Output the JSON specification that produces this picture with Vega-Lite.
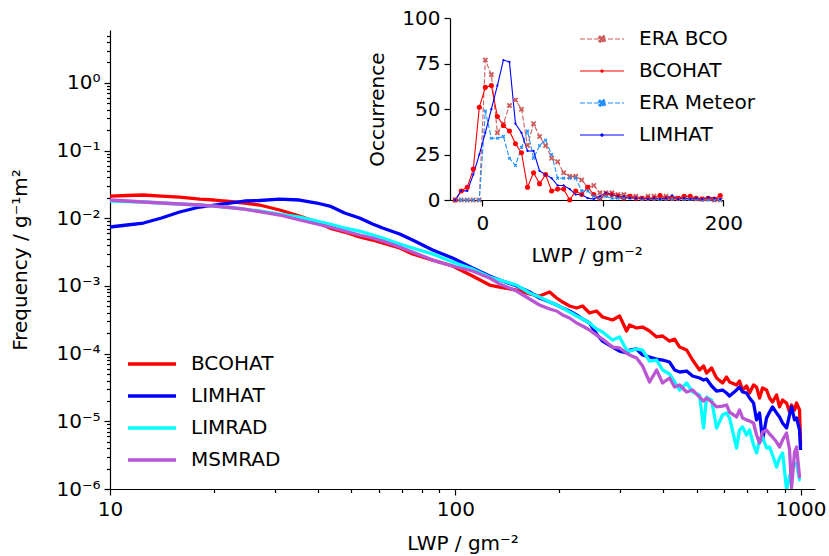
{
"$schema": "https://vega.github.io/schema/vega-lite/v6.json",
"width": 705, "height": 459,
"autosize": {"type": "none"},
"padding": {"left": 110, "top": 30, "right": 14, "bottom": 67},
"config": {
  "view": {"stroke": null},
  "font": "DejaVu Sans",
  "axis": {"grid": false, "domainColor": "#000", "domainWidth": 1.2, "tickColor": "#000", "tickWidth": 1.2, "labelColor": "#000", "titleColor": "#000", "labelFontSize": 20, "titleFontSize": 20, "titleFontWeight": "normal", "labelFont": "DejaVu Sans", "titleFont": "DejaVu Sans", "labelOverlap": false, "labelFlush": false},
  "legend": {"labelFont": "DejaVu Sans", "labelFontSize": 20, "labelColor": "#000"}
},
"datasets": {
"main": [
{"s":"BCOHAT","lwp":10,"f":0.02127},{"s":"BCOHAT","lwp":11.2,"f":0.02164},{"s":"BCOHAT","lwp":12.5,"f":0.02202},{"s":"BCOHAT","lwp":14.1,"f":0.02127},{"s":"BCOHAT","lwp":15.9,"f":0.02056},{"s":"BCOHAT","lwp":18.2,"f":0.01921},{"s":"BCOHAT","lwp":20,"f":0.01857},{"s":"BCOHAT","lwp":22.2,"f":0.01765},{"s":"BCOHAT","lwp":24.5,"f":0.01677},{"s":"BCOHAT","lwp":27.1,"f":0.01567},{"s":"BCOHAT","lwp":31,"f":0.01322},{"s":"BCOHAT","lwp":35.4,"f":0.01078},{"s":"BCOHAT","lwp":39.7,"f":0.00879},{"s":"BCOHAT","lwp":43.3,"f":0.00716},{"s":"BCOHAT","lwp":47.8,"f":0.00625},{"s":"BCOHAT","lwp":52.8,"f":0.00528},{"s":"BCOHAT","lwp":57.6,"f":0.00476},{"s":"BCOHAT","lwp":61.6,"f":0.0043},{"s":"BCOHAT","lwp":69,"f":0.00363},{"s":"BCOHAT","lwp":75.2,"f":0.00296},{"s":"BCOHAT","lwp":86,"f":0.00241},{"s":"BCOHAT","lwp":98.2,"f":0.00197},{"s":"BCOHAT","lwp":112.2,"f":0.0014},{"s":"BCOHAT","lwp":125.7,"f":0.00103},{"s":"BCOHAT","lwp":134.4,"f":0.000963},{"s":"BCOHAT","lwp":150.5,"f":0.00087},{"s":"BCOHAT","lwp":164.1,"f":0.00076},{"s":"BCOHAT","lwp":175.4,"f":0.000709},{"s":"BCOHAT","lwp":187.6,"f":0.000813},{"s":"BCOHAT","lwp":196.6,"f":0.000663},{"s":"BCOHAT","lwp":204.6,"f":0.000578},{"s":"BCOHAT","lwp":214.3,"f":0.000505},{"s":"BCOHAT","lwp":224.5,"f":0.000472},{"s":"BCOHAT","lwp":233.7,"f":0.000505},{"s":"BCOHAT","lwp":244.8,"f":0.000398},{"s":"BCOHAT","lwp":256.5,"f":0.000426},{"s":"BCOHAT","lwp":267,"f":0.000347},{"s":"BCOHAT","lwp":285.4,"f":0.000314},{"s":"BCOHAT","lwp":299.1,"f":0.000359},{"s":"BCOHAT","lwp":313.4,"f":0.000216},{"s":"BCOHAT","lwp":319.7,"f":0.000265},{"s":"BCOHAT","lwp":335,"f":0.000239},{"s":"BCOHAT","lwp":348.7,"f":0.000247},{"s":"BCOHAT","lwp":365.3,"f":0.000216},{"s":"BCOHAT","lwp":382.8,"f":0.000176},{"s":"BCOHAT","lwp":398.4,"f":0.000182},{"s":"BCOHAT","lwp":417.4,"f":0.000153},{"s":"BCOHAT","lwp":431.6,"f":0.000164},{"s":"BCOHAT","lwp":446.3,"f":0.000125},{"s":"BCOHAT","lwp":467.7,"f":0.000113},{"s":"BCOHAT","lwp":486.7,"f":8.04e-5},{"s":"BCOHAT","lwp":509.9,"f":5.73e-5},{"s":"BCOHAT","lwp":523.7,"f":6.56e-5},{"s":"BCOHAT","lwp":534.3,"f":5.17e-5},{"s":"BCOHAT","lwp":552.5,"f":6.13e-5},{"s":"BCOHAT","lwp":571.1,"f":4.36e-5},{"s":"BCOHAT","lwp":594.4,"f":3.68e-5},{"s":"BCOHAT","lwp":610.5,"f":4.51e-5},{"s":"BCOHAT","lwp":622.8,"f":3.81e-5},{"s":"BCOHAT","lwp":652.5,"f":3.44e-5},{"s":"BCOHAT","lwp":665.7,"f":3.94e-5},{"s":"BCOHAT","lwp":679.2,"f":2.9e-5},{"s":"BCOHAT","lwp":697.5,"f":3.32e-5},{"s":"BCOHAT","lwp":711.6,"f":2.62e-5},{"s":"BCOHAT","lwp":730.8,"f":3.44e-5},{"s":"BCOHAT","lwp":745.6,"f":3.21e-5},{"s":"BCOHAT","lwp":760.6,"f":2.21e-5},{"s":"BCOHAT","lwp":776,"f":3.1e-5},{"s":"BCOHAT","lwp":797,"f":2.9e-5},{"s":"BCOHAT","lwp":813.1,"f":2.21e-5},{"s":"BCOHAT","lwp":829.5,"f":1.93e-5},{"s":"BCOHAT","lwp":852,"f":2.45e-5},{"s":"BCOHAT","lwp":869.2,"f":1.63e-5},{"s":"BCOHAT","lwp":886.8,"f":2.06e-5},{"s":"BCOHAT","lwp":910.8,"f":1.86e-5},{"s":"BCOHAT","lwp":929.2,"f":1.37e-5},{"s":"BCOHAT","lwp":941.7,"f":1.74e-5},{"s":"BCOHAT","lwp":960.6,"f":1.47e-5},{"s":"BCOHAT","lwp":973.6,"f":1.86e-5},{"s":"BCOHAT","lwp":993.3,"f":1.47e-5},{"s":"BCOHAT","lwp":1000,"f":4.47e-6},
{"s":"LIMHAT","lwp":10,"f":0.00741},{"s":"LIMHAT","lwp":11.2,"f":0.00794},{"s":"LIMHAT","lwp":12.5,"f":0.00849},{"s":"LIMHAT","lwp":14.1,"f":0.01007},{"s":"LIMHAT","lwp":15.9,"f":0.01235},{"s":"LIMHAT","lwp":18.2,"f":0.01464},{"s":"LIMHAT","lwp":20,"f":0.01567},{"s":"LIMHAT","lwp":22.2,"f":0.01677},{"s":"LIMHAT","lwp":24.5,"f":0.01795},{"s":"LIMHAT","lwp":27.1,"f":0.01826},{"s":"LIMHAT","lwp":31,"f":0.01921},{"s":"LIMHAT","lwp":35.4,"f":0.01857},{"s":"LIMHAT","lwp":39.7,"f":0.01677},{"s":"LIMHAT","lwp":43.3,"f":0.01514},{"s":"LIMHAT","lwp":47.8,"f":0.01194},{"s":"LIMHAT","lwp":52.8,"f":0.01007},{"s":"LIMHAT","lwp":57.6,"f":0.00821},{"s":"LIMHAT","lwp":61.6,"f":0.00716},{"s":"LIMHAT","lwp":69,"f":0.00584},{"s":"LIMHAT","lwp":75.2,"f":0.00476},{"s":"LIMHAT","lwp":86,"f":0.00339},{"s":"LIMHAT","lwp":98.2,"f":0.00258},{"s":"LIMHAT","lwp":112.2,"f":0.00184},{"s":"LIMHAT","lwp":125.7,"f":0.0014},{"s":"LIMHAT","lwp":134.4,"f":0.00122},{"s":"LIMHAT","lwp":150.5,"f":0.000997},{"s":"LIMHAT","lwp":164.1,"f":0.000813},{"s":"LIMHAT","lwp":175.4,"f":0.000663},{"s":"LIMHAT","lwp":187.6,"f":0.000578},{"s":"LIMHAT","lwp":196.6,"f":0.000522},{"s":"LIMHAT","lwp":204.6,"f":0.000472},{"s":"LIMHAT","lwp":214.3,"f":0.000426},{"s":"LIMHAT","lwp":224.5,"f":0.000372},{"s":"LIMHAT","lwp":233.7,"f":0.000324},{"s":"LIMHAT","lwp":244.8,"f":0.000283},{"s":"LIMHAT","lwp":256.5,"f":0.000195},{"s":"LIMHAT","lwp":267,"f":0.000153},{"s":"LIMHAT","lwp":285.4,"f":0.000125},{"s":"LIMHAT","lwp":299.1,"f":0.000109},{"s":"LIMHAT","lwp":313.4,"f":0.000102},{"s":"LIMHAT","lwp":319.7,"f":0.000113},{"s":"LIMHAT","lwp":335,"f":0.000117},{"s":"LIMHAT","lwp":348.7,"f":9.54e-5},{"s":"LIMHAT","lwp":365.3,"f":8.91e-5},{"s":"LIMHAT","lwp":382.8,"f":8.32e-5},{"s":"LIMHAT","lwp":398.4,"f":8.04e-5},{"s":"LIMHAT","lwp":417.4,"f":7.51e-5},{"s":"LIMHAT","lwp":431.6,"f":5.73e-5},{"s":"LIMHAT","lwp":446.3,"f":5.35e-5},{"s":"LIMHAT","lwp":467.7,"f":5.53e-5},{"s":"LIMHAT","lwp":486.7,"f":4.67e-5},{"s":"LIMHAT","lwp":509.9,"f":4.36e-5},{"s":"LIMHAT","lwp":523.7,"f":4.07e-5},{"s":"LIMHAT","lwp":534.3,"f":4.22e-5},{"s":"LIMHAT","lwp":552.5,"f":3.32e-5},{"s":"LIMHAT","lwp":571.1,"f":2.8e-5},{"s":"LIMHAT","lwp":594.4,"f":2.9e-5},{"s":"LIMHAT","lwp":610.5,"f":2.62e-5},{"s":"LIMHAT","lwp":622.8,"f":2.36e-5},{"s":"LIMHAT","lwp":652.5,"f":2.9e-5},{"s":"LIMHAT","lwp":665.7,"f":3.21e-5},{"s":"LIMHAT","lwp":679.2,"f":2.71e-5},{"s":"LIMHAT","lwp":697.5,"f":2.62e-5},{"s":"LIMHAT","lwp":711.6,"f":2.21e-5},{"s":"LIMHAT","lwp":730.8,"f":1.86e-5},{"s":"LIMHAT","lwp":745.6,"f":1.05e-5},{"s":"LIMHAT","lwp":760.6,"f":1.33e-5},{"s":"LIMHAT","lwp":776,"f":5.29e-6},{"s":"LIMHAT","lwp":797,"f":1.12e-5},{"s":"LIMHAT","lwp":813.1,"f":1.37e-5},{"s":"LIMHAT","lwp":829.5,"f":1.63e-5},{"s":"LIMHAT","lwp":852,"f":1.33e-5},{"s":"LIMHAT","lwp":869.2,"f":1.16e-5},{"s":"LIMHAT","lwp":886.8,"f":9.44e-6},{"s":"LIMHAT","lwp":910.8,"f":7.96e-6},{"s":"LIMHAT","lwp":929.2,"f":1.24e-5},{"s":"LIMHAT","lwp":941.7,"f":1.63e-5},{"s":"LIMHAT","lwp":960.6,"f":1.05e-5},{"s":"LIMHAT","lwp":973.6,"f":1.12e-5},{"s":"LIMHAT","lwp":993.3,"f":7.44e-6},{"s":"LIMHAT","lwp":1000,"f":3.77e-6},
{"s":"LIMRAD","lwp":10,"f":0.01795},{"s":"LIMRAD","lwp":11.2,"f":0.01765},{"s":"LIMRAD","lwp":12.5,"f":0.01735},{"s":"LIMRAD","lwp":14.1,"f":0.01677},{"s":"LIMRAD","lwp":15.9,"f":0.01621},{"s":"LIMRAD","lwp":18.2,"f":0.01567},{"s":"LIMRAD","lwp":20,"f":0.01514},{"s":"LIMRAD","lwp":22.2,"f":0.01439},{"s":"LIMRAD","lwp":24.5,"f":0.01367},{"s":"LIMRAD","lwp":27.1,"f":0.01278},{"s":"LIMRAD","lwp":31,"f":0.01153},{"s":"LIMRAD","lwp":35.4,"f":0.01041},{"s":"LIMRAD","lwp":39.7,"f":0.00909},{"s":"LIMRAD","lwp":43.3,"f":0.00821},{"s":"LIMRAD","lwp":47.8,"f":0.00716},{"s":"LIMRAD","lwp":52.8,"f":0.00647},{"s":"LIMRAD","lwp":57.6,"f":0.00565},{"s":"LIMRAD","lwp":61.6,"f":0.0051},{"s":"LIMRAD","lwp":69,"f":0.00416},{"s":"LIMRAD","lwp":75.2,"f":0.00363},{"s":"LIMRAD","lwp":86,"f":0.00296},{"s":"LIMRAD","lwp":98.2,"f":0.00225},{"s":"LIMRAD","lwp":112.2,"f":0.00178},{"s":"LIMRAD","lwp":125.7,"f":0.00135},{"s":"LIMRAD","lwp":134.4,"f":0.00122},{"s":"LIMRAD","lwp":150.5,"f":0.00103},{"s":"LIMRAD","lwp":164.1,"f":0.000786},{"s":"LIMRAD","lwp":175.4,"f":0.000686},{"s":"LIMRAD","lwp":187.6,"f":0.000578},{"s":"LIMRAD","lwp":196.6,"f":0.000522},{"s":"LIMRAD","lwp":204.6,"f":0.000472},{"s":"LIMRAD","lwp":214.3,"f":0.000412},{"s":"LIMRAD","lwp":224.5,"f":0.000359},{"s":"LIMRAD","lwp":233.7,"f":0.000324},{"s":"LIMRAD","lwp":244.8,"f":0.000283},{"s":"LIMRAD","lwp":256.5,"f":0.000231},{"s":"LIMRAD","lwp":267,"f":0.000208},{"s":"LIMRAD","lwp":285.4,"f":0.000159},{"s":"LIMRAD","lwp":299.1,"f":0.000176},{"s":"LIMRAD","lwp":313.4,"f":0.000113},{"s":"LIMRAD","lwp":319.7,"f":0.000109},{"s":"LIMRAD","lwp":335,"f":0.000117},{"s":"LIMRAD","lwp":348.7,"f":0.000113},{"s":"LIMRAD","lwp":365.3,"f":7.77e-5},{"s":"LIMRAD","lwp":382.8,"f":8.04e-5},{"s":"LIMRAD","lwp":398.4,"f":5.73e-5},{"s":"LIMRAD","lwp":417.4,"f":5e-5},{"s":"LIMRAD","lwp":431.6,"f":3.81e-5},{"s":"LIMRAD","lwp":446.3,"f":2.9e-5},{"s":"LIMRAD","lwp":467.7,"f":3.68e-5},{"s":"LIMRAD","lwp":486.7,"f":2.71e-5},{"s":"LIMRAD","lwp":509.9,"f":2.45e-5},{"s":"LIMRAD","lwp":523.7,"f":7.96e-6},{"s":"LIMRAD","lwp":534.3,"f":2.28e-5},{"s":"LIMRAD","lwp":552.5,"f":2.06e-5},{"s":"LIMRAD","lwp":571.1,"f":7.96e-6},{"s":"LIMRAD","lwp":594.4,"f":1.24e-5},{"s":"LIMRAD","lwp":610.5,"f":1.33e-5},{"s":"LIMRAD","lwp":622.8,"f":1.12e-5},{"s":"LIMRAD","lwp":652.5,"f":4.03e-6},{"s":"LIMRAD","lwp":665.7,"f":7.44e-6},{"s":"LIMRAD","lwp":679.2,"f":8.24e-6},{"s":"LIMRAD","lwp":697.5,"f":6.28e-6},{"s":"LIMRAD","lwp":711.6,"f":7.44e-6},{"s":"LIMRAD","lwp":730.8,"f":4.47e-6},{"s":"LIMRAD","lwp":745.6,"f":3.4e-6},{"s":"LIMRAD","lwp":760.6,"f":5.29e-6},{"s":"LIMRAD","lwp":776,"f":5.86e-6},{"s":"LIMRAD","lwp":797,"f":4.03e-6},{"s":"LIMRAD","lwp":813.1,"f":4.17e-6},{"s":"LIMRAD","lwp":829.5,"f":3.18e-6},{"s":"LIMRAD","lwp":852,"f":2.11e-6},{"s":"LIMRAD","lwp":869.2,"f":2.87e-6},{"s":"LIMRAD","lwp":886.8,"f":3.4e-6},{"s":"LIMRAD","lwp":910.8,"f":1.0e-6},{"s":"LIMRAD","lwp":929.2,"f":1.5e-6},{"s":"LIMRAD","lwp":941.7,"f":1.91e-6},{"s":"LIMRAD","lwp":960.6,"f":2.26e-6},{"s":"LIMRAD","lwp":973.6,"f":2.42e-6},{"s":"LIMRAD","lwp":993.3,"f":1.36e-6},{"s":"LIMRAD","lwp":1000,"f":1.36e-6},
{"s":"MSMRAD","lwp":10,"f":0.01857},{"s":"MSMRAD","lwp":11.2,"f":0.01795},{"s":"MSMRAD","lwp":12.5,"f":0.01735},{"s":"MSMRAD","lwp":14.1,"f":0.01677},{"s":"MSMRAD","lwp":15.9,"f":0.01621},{"s":"MSMRAD","lwp":18.2,"f":0.01567},{"s":"MSMRAD","lwp":20,"f":0.01514},{"s":"MSMRAD","lwp":22.2,"f":0.01439},{"s":"MSMRAD","lwp":24.5,"f":0.01367},{"s":"MSMRAD","lwp":27.1,"f":0.01247},{"s":"MSMRAD","lwp":31,"f":0.01115},{"s":"MSMRAD","lwp":35.4,"f":0.00941},{"s":"MSMRAD","lwp":39.7,"f":0.00821},{"s":"MSMRAD","lwp":43.3,"f":0.00741},{"s":"MSMRAD","lwp":47.8,"f":0.00647},{"s":"MSMRAD","lwp":52.8,"f":0.00565},{"s":"MSMRAD","lwp":57.6,"f":0.0051},{"s":"MSMRAD","lwp":61.6,"f":0.0046},{"s":"MSMRAD","lwp":69,"f":0.00376},{"s":"MSMRAD","lwp":75.2,"f":0.00317},{"s":"MSMRAD","lwp":86,"f":0.00241},{"s":"MSMRAD","lwp":98.2,"f":0.00197},{"s":"MSMRAD","lwp":112.2,"f":0.00166},{"s":"MSMRAD","lwp":125.7,"f":0.00131},{"s":"MSMRAD","lwp":134.4,"f":0.00107},{"s":"MSMRAD","lwp":150.5,"f":0.000841},{"s":"MSMRAD","lwp":164.1,"f":0.000641},{"s":"MSMRAD","lwp":175.4,"f":0.000522},{"s":"MSMRAD","lwp":187.6,"f":0.000456},{"s":"MSMRAD","lwp":196.6,"f":0.000426},{"s":"MSMRAD","lwp":204.6,"f":0.000372},{"s":"MSMRAD","lwp":214.3,"f":0.000336},{"s":"MSMRAD","lwp":224.5,"f":0.000283},{"s":"MSMRAD","lwp":233.7,"f":0.000256},{"s":"MSMRAD","lwp":244.8,"f":0.000223},{"s":"MSMRAD","lwp":256.5,"f":0.000188},{"s":"MSMRAD","lwp":267,"f":0.000164},{"s":"MSMRAD","lwp":285.4,"f":0.000125},{"s":"MSMRAD","lwp":299.1,"f":0.000121},{"s":"MSMRAD","lwp":313.4,"f":0.000102},{"s":"MSMRAD","lwp":319.7,"f":9.54e-5},{"s":"MSMRAD","lwp":335,"f":8.61e-5},{"s":"MSMRAD","lwp":348.7,"f":6.56e-5},{"s":"MSMRAD","lwp":365.3,"f":3.81e-5},{"s":"MSMRAD","lwp":382.8,"f":5.73e-5},{"s":"MSMRAD","lwp":398.4,"f":3.68e-5},{"s":"MSMRAD","lwp":417.4,"f":4.36e-5},{"s":"MSMRAD","lwp":431.6,"f":3.21e-5},{"s":"MSMRAD","lwp":446.3,"f":3.44e-5},{"s":"MSMRAD","lwp":467.7,"f":2.71e-5},{"s":"MSMRAD","lwp":486.7,"f":2.9e-5},{"s":"MSMRAD","lwp":509.9,"f":2.28e-5},{"s":"MSMRAD","lwp":523.7,"f":1.99e-5},{"s":"MSMRAD","lwp":534.3,"f":2.21e-5},{"s":"MSMRAD","lwp":552.5,"f":1.93e-5},{"s":"MSMRAD","lwp":571.1,"f":1.63e-5},{"s":"MSMRAD","lwp":594.4,"f":1.68e-5},{"s":"MSMRAD","lwp":610.5,"f":1.74e-5},{"s":"MSMRAD","lwp":622.8,"f":1.37e-5},{"s":"MSMRAD","lwp":652.5,"f":1.16e-5},{"s":"MSMRAD","lwp":665.7,"f":1.47e-5},{"s":"MSMRAD","lwp":679.2,"f":1.12e-5},{"s":"MSMRAD","lwp":697.5,"f":1.05e-5},{"s":"MSMRAD","lwp":711.6,"f":1.01e-5},{"s":"MSMRAD","lwp":730.8,"f":9.44e-6},{"s":"MSMRAD","lwp":745.6,"f":6.28e-6},{"s":"MSMRAD","lwp":760.6,"f":4.78e-6},{"s":"MSMRAD","lwp":776,"f":6.95e-6},{"s":"MSMRAD","lwp":797,"f":7.44e-6},{"s":"MSMRAD","lwp":813.1,"f":6.5e-6},{"s":"MSMRAD","lwp":829.5,"f":5.86e-6},{"s":"MSMRAD","lwp":852,"f":4.94e-6},{"s":"MSMRAD","lwp":869.2,"f":4.17e-6},{"s":"MSMRAD","lwp":886.8,"f":5.29e-6},{"s":"MSMRAD","lwp":910.8,"f":6.72e-6},{"s":"MSMRAD","lwp":929.2,"f":3.77e-6},{"s":"MSMRAD","lwp":941.7,"f":1.05e-6},{"s":"MSMRAD","lwp":960.6,"f":3.52e-6},{"s":"MSMRAD","lwp":973.6,"f":4.17e-6},{"s":"MSMRAD","lwp":993.3,"f":1.5e-6},{"s":"MSMRAD","lwp":1000,"f":1.5e-6}
],
"inset": [
{"s":"ERA BCO","lwp":-22.5,"n":0},{"s":"ERA BCO","lwp":-17.5,"n":0},{"s":"ERA BCO","lwp":-12.5,"n":0},{"s":"ERA BCO","lwp":-7.5,"n":0},{"s":"ERA BCO","lwp":-2.5,"n":0},{"s":"ERA BCO","lwp":2.5,"n":77},{"s":"ERA BCO","lwp":7.5,"n":69},{"s":"ERA BCO","lwp":12.5,"n":37},{"s":"ERA BCO","lwp":17.5,"n":42},{"s":"ERA BCO","lwp":22.5,"n":52},{"s":"ERA BCO","lwp":27.5,"n":55},{"s":"ERA BCO","lwp":32.5,"n":50},{"s":"ERA BCO","lwp":37.5,"n":30},{"s":"ERA BCO","lwp":42.5,"n":42},{"s":"ERA BCO","lwp":47.5,"n":35},{"s":"ERA BCO","lwp":52.5,"n":30},{"s":"ERA BCO","lwp":57.5,"n":23},{"s":"ERA BCO","lwp":62.5,"n":21},{"s":"ERA BCO","lwp":67.5,"n":15},{"s":"ERA BCO","lwp":72.5,"n":13},{"s":"ERA BCO","lwp":77.5,"n":13},{"s":"ERA BCO","lwp":82.5,"n":11},{"s":"ERA BCO","lwp":87.5,"n":7},{"s":"ERA BCO","lwp":92.5,"n":8},{"s":"ERA BCO","lwp":97.5,"n":4},{"s":"ERA BCO","lwp":102.5,"n":4},{"s":"ERA BCO","lwp":107.5,"n":4},{"s":"ERA BCO","lwp":112.5,"n":3},{"s":"ERA BCO","lwp":117.5,"n":3},{"s":"ERA BCO","lwp":122.5,"n":2},{"s":"ERA BCO","lwp":127.5,"n":2},{"s":"ERA BCO","lwp":132.5,"n":1},{"s":"ERA BCO","lwp":137.5,"n":2},{"s":"ERA BCO","lwp":142.5,"n":2},{"s":"ERA BCO","lwp":147.5,"n":1},{"s":"ERA BCO","lwp":152.5,"n":2},{"s":"ERA BCO","lwp":157.5,"n":1},{"s":"ERA BCO","lwp":162.5,"n":1},{"s":"ERA BCO","lwp":167.5,"n":1},{"s":"ERA BCO","lwp":172.5,"n":1},{"s":"ERA BCO","lwp":177.5,"n":0.5},{"s":"ERA BCO","lwp":182.5,"n":0.5},{"s":"ERA BCO","lwp":187.5,"n":0.5},{"s":"ERA BCO","lwp":192.5,"n":0},{"s":"ERA BCO","lwp":197.5,"n":0},
{"s":"BCOHAT","lwp":-22.5,"n":0},{"s":"BCOHAT","lwp":-17.5,"n":5},{"s":"BCOHAT","lwp":-12.5,"n":7},{"s":"BCOHAT","lwp":-7.5,"n":17},{"s":"BCOHAT","lwp":-2.5,"n":51},{"s":"BCOHAT","lwp":2.5,"n":62},{"s":"BCOHAT","lwp":7.5,"n":63},{"s":"BCOHAT","lwp":12.5,"n":46},{"s":"BCOHAT","lwp":17.5,"n":41},{"s":"BCOHAT","lwp":22.5,"n":38},{"s":"BCOHAT","lwp":27.5,"n":31},{"s":"BCOHAT","lwp":32.5,"n":26},{"s":"BCOHAT","lwp":37.5,"n":7},{"s":"BCOHAT","lwp":42.5,"n":15},{"s":"BCOHAT","lwp":47.5,"n":9},{"s":"BCOHAT","lwp":52.5,"n":14},{"s":"BCOHAT","lwp":57.5,"n":5},{"s":"BCOHAT","lwp":62.5,"n":6},{"s":"BCOHAT","lwp":67.5,"n":6},{"s":"BCOHAT","lwp":72.5,"n":0},{"s":"BCOHAT","lwp":77.5,"n":5},{"s":"BCOHAT","lwp":82.5,"n":3},{"s":"BCOHAT","lwp":87.5,"n":7},{"s":"BCOHAT","lwp":92.5,"n":3},{"s":"BCOHAT","lwp":97.5,"n":1},{"s":"BCOHAT","lwp":102.5,"n":3},{"s":"BCOHAT","lwp":107.5,"n":3},{"s":"BCOHAT","lwp":112.5,"n":2},{"s":"BCOHAT","lwp":117.5,"n":1},{"s":"BCOHAT","lwp":122.5,"n":2},{"s":"BCOHAT","lwp":127.5,"n":1},{"s":"BCOHAT","lwp":132.5,"n":1},{"s":"BCOHAT","lwp":137.5,"n":1},{"s":"BCOHAT","lwp":142.5,"n":1},{"s":"BCOHAT","lwp":147.5,"n":2.5},{"s":"BCOHAT","lwp":152.5,"n":1},{"s":"BCOHAT","lwp":157.5,"n":1},{"s":"BCOHAT","lwp":162.5,"n":1},{"s":"BCOHAT","lwp":167.5,"n":2},{"s":"BCOHAT","lwp":172.5,"n":2},{"s":"BCOHAT","lwp":177.5,"n":1},{"s":"BCOHAT","lwp":182.5,"n":0.5},{"s":"BCOHAT","lwp":187.5,"n":1},{"s":"BCOHAT","lwp":192.5,"n":0.5},{"s":"BCOHAT","lwp":197.5,"n":2.5},
{"s":"ERA Meteor","lwp":-22.5,"n":0},{"s":"ERA Meteor","lwp":-17.5,"n":0},{"s":"ERA Meteor","lwp":-12.5,"n":0},{"s":"ERA Meteor","lwp":-7.5,"n":0},{"s":"ERA Meteor","lwp":-2.5,"n":0},{"s":"ERA Meteor","lwp":2.5,"n":49},{"s":"ERA Meteor","lwp":7.5,"n":34},{"s":"ERA Meteor","lwp":12.5,"n":34},{"s":"ERA Meteor","lwp":17.5,"n":35},{"s":"ERA Meteor","lwp":22.5,"n":23},{"s":"ERA Meteor","lwp":27.5,"n":19},{"s":"ERA Meteor","lwp":32.5,"n":29},{"s":"ERA Meteor","lwp":37.5,"n":38},{"s":"ERA Meteor","lwp":42.5,"n":23},{"s":"ERA Meteor","lwp":47.5,"n":30},{"s":"ERA Meteor","lwp":52.5,"n":33},{"s":"ERA Meteor","lwp":57.5,"n":25},{"s":"ERA Meteor","lwp":62.5,"n":12},{"s":"ERA Meteor","lwp":67.5,"n":12},{"s":"ERA Meteor","lwp":72.5,"n":12},{"s":"ERA Meteor","lwp":77.5,"n":12},{"s":"ERA Meteor","lwp":82.5,"n":5},{"s":"ERA Meteor","lwp":87.5,"n":5},{"s":"ERA Meteor","lwp":92.5,"n":2},{"s":"ERA Meteor","lwp":97.5,"n":1},{"s":"ERA Meteor","lwp":102.5,"n":2},{"s":"ERA Meteor","lwp":107.5,"n":1},{"s":"ERA Meteor","lwp":112.5,"n":1},{"s":"ERA Meteor","lwp":117.5,"n":1},{"s":"ERA Meteor","lwp":122.5,"n":1},{"s":"ERA Meteor","lwp":127.5,"n":1},{"s":"ERA Meteor","lwp":132.5,"n":0.5},{"s":"ERA Meteor","lwp":137.5,"n":0.5},{"s":"ERA Meteor","lwp":142.5,"n":0.5},{"s":"ERA Meteor","lwp":147.5,"n":0.5},{"s":"ERA Meteor","lwp":152.5,"n":0.5},{"s":"ERA Meteor","lwp":157.5,"n":0.5},{"s":"ERA Meteor","lwp":162.5,"n":0.5},{"s":"ERA Meteor","lwp":167.5,"n":0.5},{"s":"ERA Meteor","lwp":172.5,"n":0.5},{"s":"ERA Meteor","lwp":177.5,"n":0.5},{"s":"ERA Meteor","lwp":182.5,"n":0},{"s":"ERA Meteor","lwp":187.5,"n":0},{"s":"ERA Meteor","lwp":192.5,"n":0},{"s":"ERA Meteor","lwp":197.5,"n":0},
{"s":"LIMHAT","lwp":-22.5,"n":0},{"s":"LIMHAT","lwp":-17.5,"n":5},{"s":"LIMHAT","lwp":-12.5,"n":5},{"s":"LIMHAT","lwp":-7.5,"n":14},{"s":"LIMHAT","lwp":-2.5,"n":25},{"s":"LIMHAT","lwp":2.5,"n":37},{"s":"LIMHAT","lwp":7.5,"n":50},{"s":"LIMHAT","lwp":12.5,"n":63},{"s":"LIMHAT","lwp":17.5,"n":77},{"s":"LIMHAT","lwp":22.5,"n":76},{"s":"LIMHAT","lwp":27.5,"n":42},{"s":"LIMHAT","lwp":32.5,"n":37},{"s":"LIMHAT","lwp":37.5,"n":27},{"s":"LIMHAT","lwp":42.5,"n":27},{"s":"LIMHAT","lwp":47.5,"n":16},{"s":"LIMHAT","lwp":52.5,"n":14},{"s":"LIMHAT","lwp":57.5,"n":12},{"s":"LIMHAT","lwp":62.5,"n":8},{"s":"LIMHAT","lwp":67.5,"n":8},{"s":"LIMHAT","lwp":72.5,"n":6},{"s":"LIMHAT","lwp":77.5,"n":3},{"s":"LIMHAT","lwp":82.5,"n":3},{"s":"LIMHAT","lwp":87.5,"n":1},{"s":"LIMHAT","lwp":92.5,"n":0.5},{"s":"LIMHAT","lwp":97.5,"n":2},{"s":"LIMHAT","lwp":102.5,"n":4},{"s":"LIMHAT","lwp":107.5,"n":3},{"s":"LIMHAT","lwp":112.5,"n":2},{"s":"LIMHAT","lwp":117.5,"n":2},{"s":"LIMHAT","lwp":122.5,"n":1},{"s":"LIMHAT","lwp":127.5,"n":1},{"s":"LIMHAT","lwp":132.5,"n":1},{"s":"LIMHAT","lwp":137.5,"n":0.5},{"s":"LIMHAT","lwp":142.5,"n":1},{"s":"LIMHAT","lwp":147.5,"n":0.5},{"s":"LIMHAT","lwp":152.5,"n":1},{"s":"LIMHAT","lwp":157.5,"n":2.5},{"s":"LIMHAT","lwp":162.5,"n":0.5},{"s":"LIMHAT","lwp":167.5,"n":1},{"s":"LIMHAT","lwp":172.5,"n":0.5},{"s":"LIMHAT","lwp":177.5,"n":1},{"s":"LIMHAT","lwp":182.5,"n":0.5},{"s":"LIMHAT","lwp":187.5,"n":1.5},{"s":"LIMHAT","lwp":192.5,"n":1},{"s":"LIMHAT","lwp":197.5,"n":0.5}
]
},
"layer": [
  {
    "data": {"name": "main"},
    "mark": {"type": "line", "strokeWidth": 3.3, "clip": true, "strokeJoin": "round"},
    "encoding": {
      "x": {"field": "lwp", "type": "quantitative",
        "scale": {"type": "log", "domain": [10, 1101], "nice": false},
        "axis": {"title": "LWP / gm⁻²", "values": [10,20,30,40,50,60,70,80,90,100,200,300,400,500,600,700,800,900,1000],
          "labelExpr": "abs(log(datum.value)/LN10 - round(log(datum.value)/LN10)) < 0.001 ? format(datum.value, 'd') : ''",
          "tickSize": {"condition": {"test": "abs(log(datum.value)/LN10 - round(log(datum.value)/LN10)) < 0.001", "value": 6}, "value": 3.5},
          "labelPadding": 4, "titlePadding": 14}},
      "y": {"field": "f", "type": "quantitative",
        "scale": {"type": "log", "domain": [1e-6, 6.03], "nice": false},
        "axis": {"title": "Frequency / g⁻¹m²",
          "values": [1e-6,2e-6,3e-6,4e-6,5e-6,6e-6,7e-6,8e-6,9e-6,1e-5,2e-5,3e-5,4e-5,5e-5,6e-5,7e-5,8e-5,9e-5,1e-4,2e-4,3e-4,4e-4,5e-4,6e-4,7e-4,8e-4,9e-4,1e-3,2e-3,3e-3,4e-3,5e-3,6e-3,7e-3,8e-3,9e-3,1e-2,2e-2,3e-2,4e-2,5e-2,6e-2,7e-2,8e-2,9e-2,0.1,0.2,0.3,0.4,0.5,0.6,0.7,0.8,0.9,1,2,3,4,5],
          "labelExpr": "abs(log(datum.value)/LN10 - round(log(datum.value)/LN10)) < 0.001 ? ('10' + (round(log(datum.value)/LN10) == 0 ? '⁰' : '⁻' + ['','¹','²','³','⁴','⁵','⁶'][-round(log(datum.value)/LN10)])) : ''",
          "tickSize": {"condition": {"test": "abs(log(datum.value)/LN10 - round(log(datum.value)/LN10)) < 0.001", "value": 6}, "value": 3.5},
          "labelPadding": 4, "titlePadding": 25}},
      "color": {"field": "s", "type": "nominal",
        "scale": {"domain": ["BCOHAT", "LIMHAT", "LIMRAD", "MSMRAD"], "range": ["#ff0000", "#0000ff", "#00ffff", "#ba55d3"]},
        "legend": {"title": null, "orient": "none", "legendX": 16, "legendY": 326, "padding": 0,
          "symbolType": "stroke", "symbolSize": 2304, "symbolStrokeWidth": 3.3, "labelOffset": 13,
          "rowPadding": 12, "clipHeight": 16, "labelFontSize": 20}}
    }
  },
  {
    "data": {"name": "inset"},
    "encoding": {
      "x": {"field": "lwp", "type": "quantitative",
        "scale": {"domain": [-27, 200], "range": [339.8, 613.3], "nice": false, "zero": false},
        "axis": {"orient": "bottom", "offset": -289, "title": "LWP / gm⁻²", "values": [0, 100, 200], "tickSize": 6, "labelPadding": 7, "titlePadding": 12}},
      "y": {"field": "n", "type": "quantitative",
        "scale": {"domain": [0, 100], "range": [170, -11.7], "nice": false},
        "axis": {"orient": "left", "offset": -340, "title": "Occurrence", "values": [0, 25, 50, 75, 100], "tickSize": 6, "labelPadding": 4, "titlePadding": 14}},
      "color": {"field": "s", "type": "nominal",
        "scale": {"domain": ["ERA BCO", "BCOHAT", "ERA Meteor", "LIMHAT"], "range": ["#cd5c5c", "#ff0000", "#1e90ff", "#0000ff"]},
        "legend": {"title": null, "orient": "none", "legendX": 469, "legendY": 1, "padding": 0,
          "symbolType": "stroke", "symbolSize": 1936, "symbolStrokeWidth": 1.2, "labelOffset": 14,
          "rowPadding": 12, "clipHeight": 16, "labelFontSize": 20,
          "encode": {"symbols": {"update": {
            "shape": {"signal": "indexof(datum.value, 'ERA') === 0 ? 'M-1,0H1M0,0.071L-0.085,0.156L-0.156,0.085L-0.071,0L-0.156,-0.085L-0.085,-0.156L0,-0.071L0.085,-0.156L0.156,-0.085L0.071,0L0.156,0.085L0.085,0.156Z' : 'M-1,0H1M0.05,0A0.05,0.05 0 1 1 -0.05,0A0.05,0.05 0 1 1 0.05,0Z'"},
            "strokeDash": {"signal": "indexof(datum.value, 'ERA') === 0 ? [5, 2] : [1, 0]"},
            "fill": {"signal": "datum.value === 'ERA BCO' ? '#cd5c5c' : datum.value === 'BCOHAT' ? '#ff0000' : datum.value === 'ERA Meteor' ? '#1e90ff' : '#0000ff'"},
            "stroke": {"signal": "datum.value === 'ERA BCO' ? '#cd5c5c' : datum.value === 'BCOHAT' ? '#ff0000' : datum.value === 'ERA Meteor' ? '#1e90ff' : '#0000ff'"},
            "fillOpacity": {"value": 1},
            "opacity": {"value": 1}
          }}}}}
    },
    "layer": [
      {
        "mark": {"type": "line", "strokeWidth": 1.1},
        "encoding": {
          "strokeDash": {"field": "s", "type": "nominal",
            "scale": {"domain": ["ERA BCO", "BCOHAT", "ERA Meteor", "LIMHAT"], "range": [[5, 2], [1, 0], [5, 2], [1, 0]]},
            "legend": null}
        }
      },
      {
        "mark": {"type": "point", "filled": true, "opacity": 1},
        "encoding": {
          "shape": {"field": "s", "type": "nominal",
            "scale": {"domain": ["ERA BCO", "BCOHAT", "ERA Meteor", "LIMHAT"], "range": ["M0,0.424L-0.495,0.919L-0.919,0.495L-0.424,0L-0.919,-0.495L-0.495,-0.919L0,-0.424L0.495,-0.919L0.919,-0.495L0.424,0L0.919,0.495L0.495,0.919Z", "circle", "M0,0.424L-0.495,0.919L-0.919,0.495L-0.424,0L-0.919,-0.495L-0.495,-0.919L0,-0.424L0.495,-0.919L0.919,-0.495L0.424,0L0.919,0.495L0.495,0.919Z", "circle"]},
            "legend": null},
          "size": {"field": "s", "type": "nominal",
            "scale": {"domain": ["ERA BCO", "BCOHAT", "ERA Meteor", "LIMHAT"], "range": [36, 5, 36, 5]},
            "legend": null}
        }
      }
    ]
  }
],
"resolve": {
  "scale": {"x": "independent", "y": "independent", "color": "independent"},
  "axis": {"x": "independent", "y": "independent"},
  "legend": {"color": "independent"}
}
}
